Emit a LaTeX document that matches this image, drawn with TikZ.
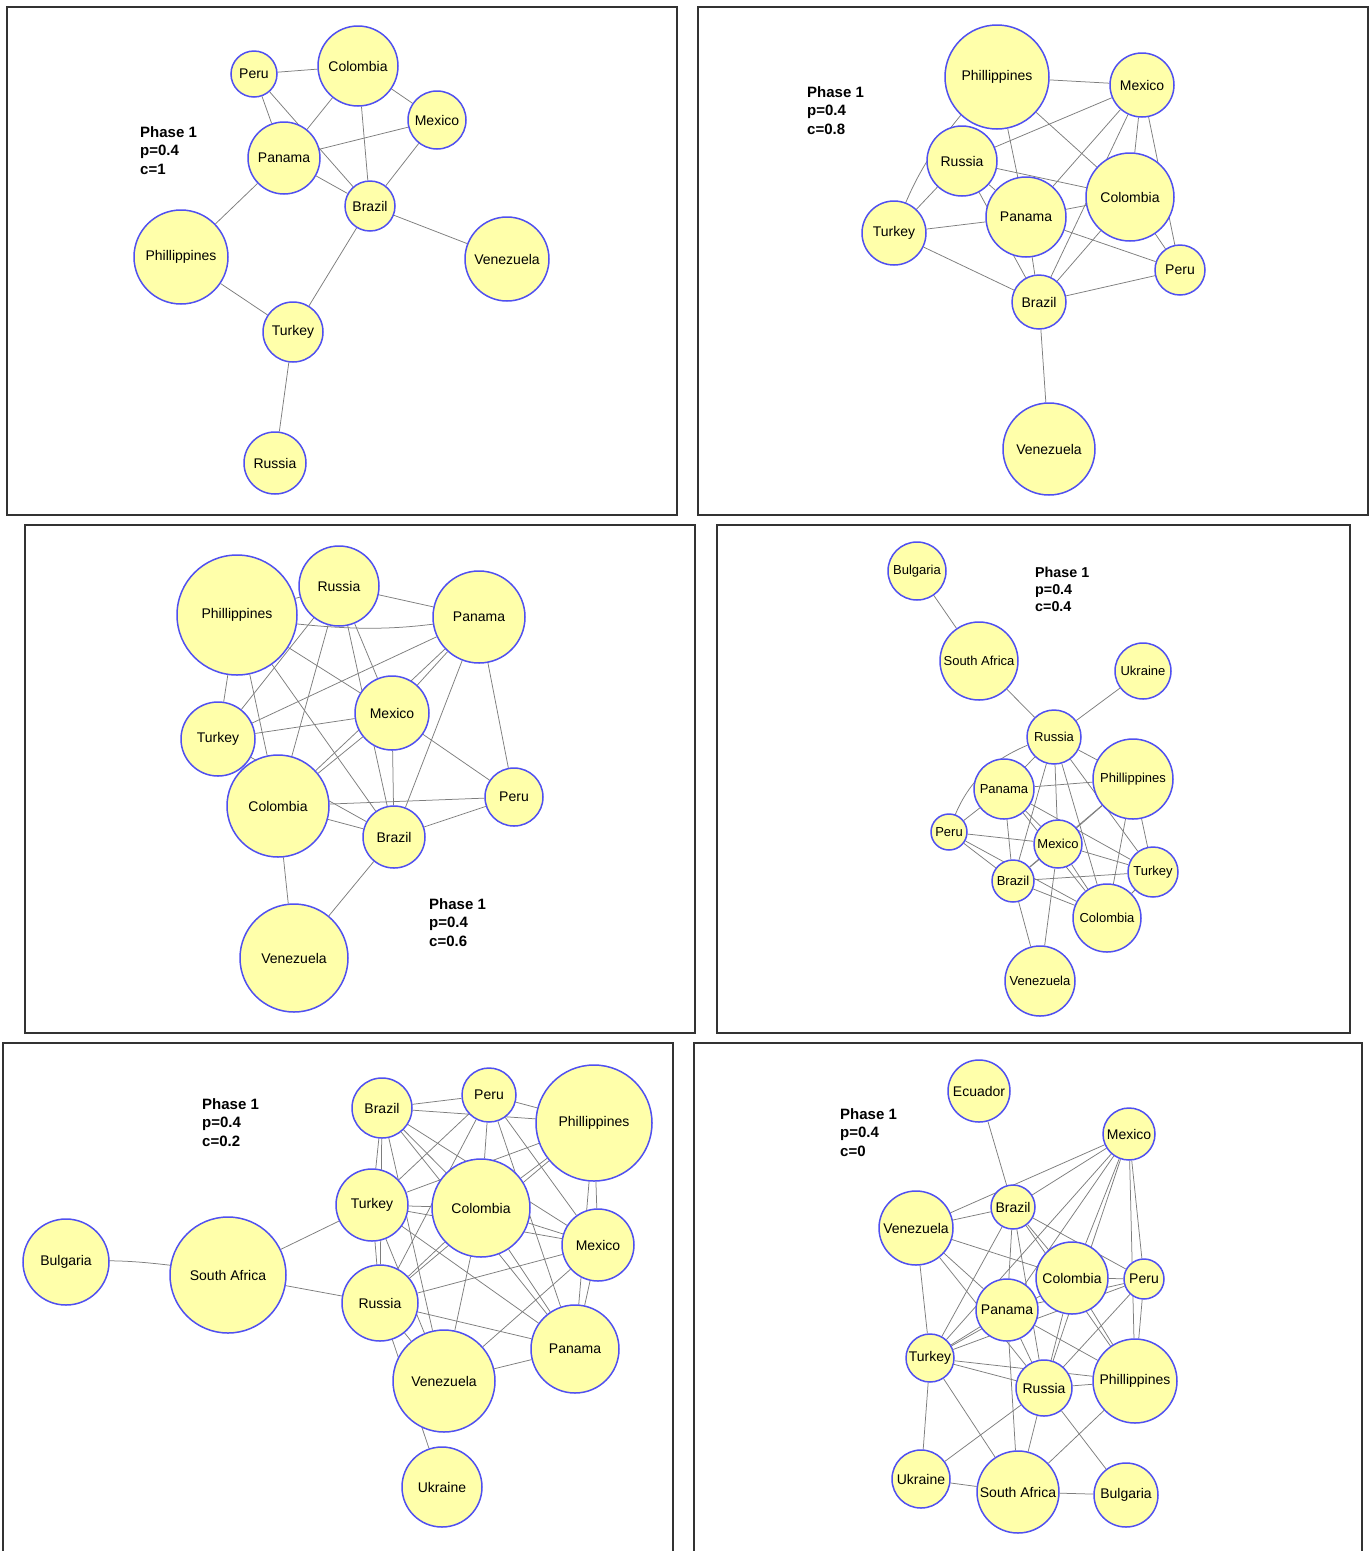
\documentclass[tikz,border=0pt]{standalone}
\usepackage{fontspec}
\setmainfont{Liberation Sans}
\usepackage{tikz}
\usetikzlibrary{ calc, positioning }
\pgfdeclarelayer{background}
\pgfdeclarelayer{links}
\pgfsetlayers{background,links,main}
\definecolor{nodefill}{RGB}{255,255,170}
\definecolor{nodeline}{RGB}{80,80,240}
\definecolor{linkgray}{RGB}{125,125,125}
\tikzset{
country/.style={circle, draw=nodeline, fill=nodefill, line width=1.5pt, inner sep=0pt, font=\fontsize{14}{16}\selectfont}, % every country is a yellow disc
small country/.style={country, font=\fontsize{13}{15}\selectfont},
link/.style={draw=linkgray, line width=0.75pt},
frame/.style={draw=black!80, line width=1.1pt},
phase/.style={anchor=north west, align=left, inner sep=0pt, font=\bfseries\fontsize{15}{18.5}\selectfont},
}

\begin{document}
\begin{tikzpicture}[x=1pt, y=-1pt]
  \useasboundingbox (0,0) rectangle (1372,1551);
  \begin{pgfonlayer}{background}
  \fill[white] (0,0) rectangle (1372,1551);
  \end{pgfonlayer}

  % panel c=1
  \begin{scope}[name prefix=a-]
  \draw[frame] (7,7) rectangle (677,515);
  \node[phase] at (140,126) {Phase 1\\p=0.4\\c=1};
  \node[country, minimum size=46] (peru) at (254,74) {Peru};
  \node[country, minimum size=80] (colombia) at (358,66) {Colombia};
  \node[country, minimum size=58] (mexico) at (437,120) {Mexico};
  \node[country, minimum size=72] (panama) at (284,158) {Panama};
  \node[country, minimum size=50] (brazil) at (370,206) {Brazil};
  \node[country, minimum size=94] (phil) at (181,257) {Phillippines};
  \node[country, minimum size=84] (venezuela) at (507,259) {Venezuela};
  \node[country, minimum size=60] (turkey) at (293,332) {Turkey};
  \node[country, minimum size=62] (russia) at (275,463) {Russia};

  \begin{pgfonlayer}{links}
  \path[link]
  (peru) edge (colombia)
  (peru) edge (panama)
  (peru) edge (brazil)
  (colombia) edge (panama)
  (colombia) edge (mexico)
  (colombia) edge (brazil)
  (mexico) edge (panama)
  (mexico) edge (brazil)
  (panama) edge (brazil)
  (panama) edge (phil)
  (phil) edge (turkey)
  (turkey) edge (brazil)
  (brazil) edge (venezuela)
  (turkey) edge (russia);
  \end{pgfonlayer}
  \end{scope}

  % panel c=0.8
  \begin{scope}[name prefix=b-]
  \draw[frame] (698,7) rectangle (1368,515);
  \node[phase] at (807,86) {Phase 1\\p=0.4\\c=0.8};
  \node[country, minimum size=104] (phil) at (997,77) {Phillippines};
  \node[country, minimum size=64] (mexico) at (1142,85) {Mexico};
  \node[country, minimum size=70] (russia) at (962,161) {Russia};
  \node[country, minimum size=80] (panama) at (1026,217) {Panama};
  \node[country, minimum size=88] (colombia) at (1130,197) {Colombia};
  \node[country, minimum size=64] (turkey) at (894,233) {Turkey};
  \node[country, minimum size=50] (peru) at (1180,270) {Peru};
  \node[country, minimum size=54] (brazil) at (1039,302) {Brazil};
  \node[country, minimum size=92] (venezuela) at (1049,449) {Venezuela};

  \begin{pgfonlayer}{links}
  \path[link]
  (phil) edge (mexico)
  (phil) edge[bend right=10] (turkey)
  (phil) edge (panama)
  (phil) edge (colombia)
  (mexico) edge (russia)
  (mexico) edge (panama)
  (mexico) edge (brazil)
  (mexico) edge (colombia)
  (mexico) edge (peru)
  (russia) edge (colombia)
  (russia) edge (turkey)
  (russia) edge (panama)
  (russia) edge (brazil)
  (turkey) edge (panama)
  (turkey) edge (brazil)
  (panama) edge (colombia)
  (panama) edge (peru)
  (panama) edge (brazil)
  (colombia) edge (brazil)
  (colombia) edge (peru)
  (brazil) edge (peru)
  (brazil) edge (venezuela);
  \end{pgfonlayer}
  \end{scope}

  % panel c=0.6
  \begin{scope}[name prefix=c-]
  \draw[frame] (25,525) rectangle (695,1033);
  \node[phase] at (429,898) {Phase 1\\p=0.4\\c=0.6};
  \node[country, minimum size=120] (phil) at (237,615) {Phillippines};
  \node[country, minimum size=80] (russia) at (339,586) {Russia};
  \node[country, minimum size=92] (panama) at (479,617) {Panama};
  \node[country, minimum size=74] (mexico) at (392,713) {Mexico};
  \node[country, minimum size=74] (turkey) at (218,739) {Turkey};
  \node[country, minimum size=102] (colombia) at (278,806) {Colombia};
  \node[country, minimum size=62] (brazil) at (394,837) {Brazil};
  \node[country, minimum size=58] (peru) at (514,797) {Peru};
  \node[country, minimum size=108] (venezuela) at (294,958) {Venezuela};

  \begin{pgfonlayer}{links}
  \path[link]
  (phil) edge (russia)
  (phil) edge[bend right=8] (panama)
  (phil) edge (turkey)
  (phil) edge (colombia)
  (phil) edge (mexico)
  (phil) edge (brazil)
  (russia) edge (panama)
  (russia) edge (turkey)
  (russia) edge (colombia)
  (russia) edge (brazil)
  (russia) edge (mexico)
  (panama) edge (turkey)
  (panama) edge (colombia)
  (panama) edge (mexico)
  (panama) edge (brazil)
  (panama) edge (peru)
  (turkey) edge (mexico)
  (turkey) edge (brazil)
  (mexico) edge (colombia)
  (mexico) edge (brazil)
  (mexico) edge (peru)
  (colombia) edge (peru)
  (colombia) edge (brazil)
  (brazil) edge (peru)
  (colombia) edge (venezuela)
  (brazil) edge (venezuela);
  \end{pgfonlayer}
  \end{scope}

  % panel c=0.4
  \begin{scope}[name prefix=d-]
  \draw[frame] (717,525) rectangle (1350,1033);
  \node[phase, font=\bfseries\fontsize{14.3}{16.8}\selectfont] at (1035,567) {Phase 1\\p=0.4\\c=0.4};
  \node[small country, minimum size=58] (bulgaria) at (917,571) {Bulgaria};
  \node[small country, minimum size=78] (safrica) at (979,661) {South Africa};
  \node[small country, minimum size=56] (ukraine) at (1143,671) {Ukraine};
  \node[small country, minimum size=54] (russia) at (1054,737) {Russia};
  \node[small country, minimum size=60] (panama) at (1004,789) {Panama};
  \node[small country, minimum size=80] (phil) at (1133,779) {Phillippines};
  \node[small country, minimum size=36] (peru) at (949,832) {Peru};
  \node[small country, minimum size=48] (mexico) at (1058,844) {Mexico};
  \node[small country, minimum size=50] (turkey) at (1153,872) {Turkey};
  \node[small country, minimum size=42] (brazil) at (1013,881) {Brazil};
  \node[small country, minimum size=68] (colombia) at (1107,918) {Colombia};
  \node[small country, minimum size=70] (venezuela) at (1040,981) {Venezuela};

  \begin{pgfonlayer}{links}
  \path[link]
  (bulgaria) edge (safrica)
  (safrica) edge (russia)
  (ukraine) edge (russia)
  (russia) edge[bend right=25] (peru)
  (russia) edge (panama)
  (russia) edge (phil)
  (russia) edge (mexico)
  (russia) edge (brazil)
  (russia) edge (colombia)
  (russia) edge (turkey)
  (panama) edge (phil)
  (panama) edge (peru)
  (panama) edge (mexico)
  (panama) edge (brazil)
  (panama) edge (colombia)
  (panama) edge (turkey)
  (peru) edge (mexico)
  (peru) edge (brazil)
  (peru) edge (colombia)
  (phil) edge (brazil)
  (phil) edge (mexico)
  (phil) edge (turkey)
  (phil) edge (colombia)
  (mexico) edge (turkey)
  (mexico) edge (brazil)
  (mexico) edge (colombia)
  (mexico) edge (venezuela)
  (brazil) edge (turkey)
  (brazil) edge (colombia)
  (brazil) edge (venezuela)
  (colombia) edge (turkey);
  \end{pgfonlayer}
  \end{scope}

  % panel c=0.2
  \begin{scope}[name prefix=e-]
  \draw[frame] (3,1043) rectangle (673,1580);
  \node[phase] at (202,1098) {Phase 1\\p=0.4\\c=0.2};
  \node[country, minimum size=60] (brazil) at (382,1108) {Brazil};
  \node[country, minimum size=54] (peru) at (489,1095) {Peru};
  \node[country, minimum size=116] (phil) at (594,1123) {Phillippines};
  \node[country, minimum size=72] (turkey) at (372,1205) {Turkey};
  \node[country, minimum size=98] (colombia) at (481,1208) {Colombia};
  \node[country, minimum size=72] (mexico) at (598,1245) {Mexico};
  \node[country, minimum size=76] (russia) at (380,1303) {Russia};
  \node[country, minimum size=88] (panama) at (575,1349) {Panama};
  \node[country, minimum size=102] (venezuela) at (444,1381) {Venezuela};
  \node[country, minimum size=86] (bulgaria) at (66,1262) {Bulgaria};
  \node[country, minimum size=116] (safrica) at (228,1275) {South Africa};
  \node[country, minimum size=80] (ukraine) at (442,1487) {Ukraine};

  \begin{pgfonlayer}{links}
  \path[link]
  (brazil) edge (peru)
  (brazil) edge (phil)
  (brazil) edge (mexico)
  (brazil) edge (turkey)
  (brazil) edge (russia)
  (brazil) edge (venezuela)
  (brazil) edge (panama)
  (brazil) edge (colombia)
  (peru) edge (phil)
  (peru) edge (turkey)
  (peru) edge (colombia)
  (peru) edge (mexico)
  (peru) edge (panama)
  (peru) edge (russia)
  (phil) edge (turkey)
  (phil) edge (colombia)
  (phil) edge (mexico)
  (phil) edge (panama)
  (phil) edge (russia)
  (turkey) edge (colombia)
  (turkey) edge (russia)
  (turkey) edge (panama)
  (turkey) edge (venezuela)
  (turkey) edge (mexico)
  (turkey) edge (safrica)
  (colombia) edge (russia)
  (colombia) edge (mexico)
  (colombia) edge (panama)
  (colombia) edge (venezuela)
  (mexico) edge (russia)
  (mexico) edge (panama)
  (mexico) edge (venezuela)
  (russia) edge (panama)
  (russia) edge (venezuela)
  (russia) edge (ukraine)
  (russia) edge (safrica)
  (venezuela) edge (panama)
  (safrica) edge[bend right=5] (bulgaria);
  \end{pgfonlayer}
  \end{scope}

  % panel c=0
  \begin{scope}[name prefix=f-]
  \draw[frame] (694,1043) rectangle (1362,1580);
  \node[phase] at (840,1108) {Phase 1\\p=0.4\\c=0};
  \node[country, minimum size=62] (ecuador) at (979,1091) {Ecuador};
  \node[country, minimum size=52] (mexico) at (1129,1134) {Mexico};
  \node[country, minimum size=44] (brazil) at (1013,1207) {Brazil};
  \node[country, minimum size=74] (venezuela) at (916,1228) {Venezuela};
  \node[country, minimum size=72] (colombia) at (1072,1278) {Colombia};
  \node[country, minimum size=40] (peru) at (1144,1279) {Peru};
  \node[country, minimum size=62] (panama) at (1007,1310) {Panama};
  \node[country, minimum size=48] (turkey) at (930,1358) {Turkey};
  \node[country, minimum size=56] (russia) at (1044,1388) {Russia};
  \node[country, minimum size=84] (phil) at (1135,1381) {Phillippines};
  \node[country, minimum size=58] (ukraine) at (921,1479) {Ukraine};
  \node[country, minimum size=82] (safrica) at (1018,1492) {South Africa};
  \node[country, minimum size=64] (bulgaria) at (1126,1495) {Bulgaria};

  \begin{pgfonlayer}{links}
  \path[link]
  (ecuador) edge (brazil)
  (mexico) edge (venezuela)
  (mexico) edge (brazil)
  (mexico) edge (turkey)
  (mexico) edge (colombia)
  (mexico) edge (panama)
  (mexico) edge (russia)
  (mexico) edge (phil)
  (mexico) edge (peru)
  (brazil) edge (venezuela)
  (brazil) edge (turkey)
  (brazil) edge (panama)
  (brazil) edge (russia)
  (brazil) edge (phil)
  (brazil) edge (colombia)
  (brazil) edge (peru)
  (venezuela) edge (colombia)
  (venezuela) edge (panama)
  (venezuela) edge (turkey)
  (venezuela) edge (russia)
  (colombia) edge (peru)
  (colombia) edge (turkey)
  (colombia) edge (russia)
  (colombia) edge (phil)
  (peru) edge (turkey)
  (peru) edge (russia)
  (peru) edge (phil)
  (peru) edge (panama)
  (panama) edge (turkey)
  (panama) edge (russia)
  (panama) edge (phil)
  (panama) edge (safrica)
  (turkey) edge (russia)
  (turkey) edge (phil)
  (turkey) edge (ukraine)
  (turkey) edge (safrica)
  (russia) edge (phil)
  (russia) edge (safrica)
  (russia) edge (ukraine)
  (russia) edge (bulgaria)
  (phil) edge (safrica)
  (ukraine) edge (safrica)
  (safrica) edge (bulgaria);
  \end{pgfonlayer}
  \end{scope}
\end{tikzpicture}
\end{document}
